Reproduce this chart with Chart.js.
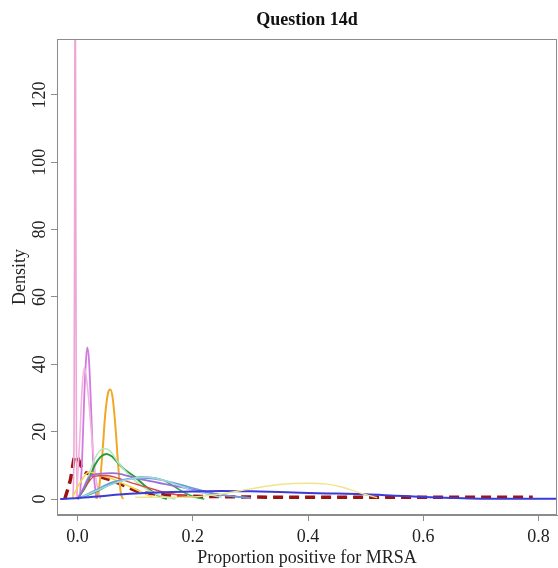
<!DOCTYPE html>
<html>
<head>
<meta charset="utf-8">
<script src="https://cdn.jsdelivr.net/npm/chart.js@4.4.0/dist/chart.umd.min.js"></script>
<style>
  html, body { margin: 0; padding: 0; background: #fff; }
  canvas { display: block; }
</style>
</head>
<body>
<canvas id="densityChart" width="558" height="568"></canvas>
<script>
// axis ticks
const xTicks = [0, 0.2, 0.4, 0.6, 0.8];
const yTicks = [0, 20, 40, 60, 80, 100, 120];

// density curves (x = proportion, y = density)
const spikeX = [-0.008, -0.006, -0.005, -0.004, -0.003, -0.002, 0.0];
const spikeY = [0, 20, 90, 170, 90, 20, 0];

const orchidX = [0.004, 0.008, 0.012, 0.015, 0.017, 0.02, 0.024, 0.028, 0.033];
const orchidY = [0, 12, 32, 42, 45, 41, 25, 8, 0];

const lightPinkX = [-0.002, 0.004, 0.008, 0.012, 0.018, 0.025, 0.032, 0.04];
const lightPinkY = [0, 18, 33, 39, 32, 18, 6, 0];

const orangeX = [0.033, 0.038, 0.043, 0.048, 0.053, 0.057, 0.061, 0.066, 0.071, 0.075, 0.079];
const orangeY = [0, 4, 13, 25, 31.5, 32.5, 30, 21, 9, 2, 0];

const paleGreenX = [0.0, 0.015, 0.03, 0.045, 0.055, 0.07, 0.09, 0.11, 0.14, 0.17];
const paleGreenY = [0, 5, 12, 15, 14.5, 11, 7, 4, 1.2, 0];

const greenX = [0.0, 0.015, 0.03, 0.04, 0.05, 0.06, 0.07, 0.08, 0.1, 0.12, 0.14, 0.155];
const greenY = [0, 4, 10, 12.5, 13.4, 12.6, 10.8, 9, 6.5, 3.5, 1, 0];

const green2X = [0.0, 0.03, 0.06, 0.09, 0.11, 0.13, 0.15, 0.17, 0.19, 0.21, 0.22];
const green2Y = [0, 2, 4.5, 6, 6.5, 6.3, 5.5, 3.5, 1.5, 0.3, 0];

const purpleX = [0.0, 0.01, 0.02, 0.04, 0.06, 0.08, 0.1, 0.12, 0.15, 0.18, 0.21, 0.25, 0.3];
const purpleY = [0, 3, 6.5, 7.5, 7.7, 7.2, 6.3, 5.5, 4.5, 3.5, 2.5, 1.2, 0.3];

const steelX = [0.0, 0.03, 0.06, 0.09, 0.12, 0.15, 0.18, 0.21, 0.25, 0.3];
const steelY = [0, 2.5, 5, 6, 6.2, 5.5, 4.2, 2.8, 1.2, 0.3];

const skyX = [0.0, 0.04, 0.08, 0.12, 0.16, 0.2, 0.25];
const skyY = [0, 3, 5.5, 6.5, 5, 2.5, 0.5];

const redX = [0.0, 0.015, 0.03, 0.05, 0.07, 0.09, 0.12, 0.15, 0.2];
const redY = [0, 4, 6.8, 7, 6.2, 5, 3.5, 2, 0.5];

const goldX = [-0.01, 0.005, 0.02, 0.04, 0.06, 0.08, 0.1, 0.13];
const goldY = [0, 5, 8, 7, 6, 4.5, 3, 0.5];

const khakiX = [0.1, 0.2, 0.25, 0.3, 0.35, 0.4, 0.43, 0.46, 0.49, 0.52];
const khakiY = [0.5, 0.6, 1.5, 3.0, 4.3, 4.7, 4.5, 3.5, 1.8, 0.4];

const blueX = [-0.03, 0.0, 0.05, 0.1, 0.15, 0.2, 0.25, 0.3, 0.35, 0.4, 0.45, 0.5, 0.55, 0.6, 0.65, 0.7, 0.8, 0.84];
const blueY = [0, 0.3, 1.0, 1.6, 2.0, 2.2, 2.4, 2.3, 2.1, 1.8, 1.6, 1.4, 1.0, 0.6, 0.3, 0.1, 0.05, 0.05];

const pooledX = [-0.022, -0.012, -0.004, 0.0, 0.004, 0.01, 0.016, 0.03, 0.05, 0.07, 0.086, 0.108, 0.13, 0.16, 0.2, 0.25, 0.3, 0.4, 0.5, 0.6, 0.7, 0.79];
const pooledY = [0, 6, 12.8, 12.4, 10.7, 8.5, 7.7, 7.0, 6.1, 4.8, 3.6, 2.1, 1.6, 1.1, 0.8, 0.7, 0.6, 0.5, 0.5, 0.5, 0.5, 0.5];

const serif = '"Liberation Serif", "DejaVu Serif", serif';

function pts(xs, ys) {
  return xs.map((x, i) => ({ x, y: ys[i] }));
}

function line(xs, ys, color, width, dash) {
  return {
    data: pts(xs, ys),
    borderColor: color,
    borderWidth: width || 1.6,
    borderDash: dash || [],
    showLine: true,
    pointRadius: 0,
    fill: false,
    cubicInterpolationMode: 'monotone'
  };
}

const datasets = [
  line(khakiX, khakiY, '#eee58c', 1.4),
  line(blueX, blueY, '#3b3bd6', 2),
  line(skyX, skyY, '#9fd3ea', 1.6),
  line(steelX, steelY, '#6a9fd0', 1.6),
  line(purpleX, purpleY, '#9a6fdc', 1.8),
  line(redX, redY, '#e04848', 1.4),
  line(goldX, goldY, '#f2d84a', 1.6),
  line(green2X, green2Y, '#3aa84a', 1.6),
  line(paleGreenX, paleGreenY, '#b8e6c6', 1.6),
  line(greenX, greenY, '#2c9c3a', 2),
  line(orangeX, orangeY, '#f0a828', 2),
  line(lightPinkX, lightPinkY, '#f2b4e0', 1.6),
  line(orchidX, orchidY, '#d27ae0', 1.8),
  line(spikeX, spikeY, '#eea6d6', 1.6),
  line(pooledX, pooledY, '#9b1414', 3.5, [10, 6])
];

const frame = {
  id: 'frame',
  afterDraw(chart) {
    const { ctx, chartArea: a, scales } = chart;
    ctx.save();
    ctx.strokeStyle = '#8c8c8c';
    ctx.lineWidth = 1;
    ctx.strokeRect(a.left + 0.5, a.top + 0.5, a.right - a.left - 1, a.bottom - a.top - 1);

    ctx.fillStyle = '#111';
    ctx.font = 'bold 18px ' + serif;
    ctx.textAlign = 'center';
    ctx.textBaseline = 'alphabetic';
    ctx.fillText('Question 14d', (a.left + a.right) / 2, 25);

    ctx.font = '18px ' + serif;
    ctx.fillStyle = '#222';
    scales.x.ticks.forEach(t => {
      ctx.fillText(t.value.toFixed(1), scales.x.getPixelForValue(t.value), 542);
    });
    ctx.fillText('Proportion positive for MRSA', (a.left + a.right) / 2, 563);

    scales.y.ticks.forEach(t => {
      ctx.save();
      ctx.translate(45, scales.y.getPixelForValue(t.value));
      ctx.rotate(-Math.PI / 2);
      ctx.fillText(String(t.value), 0, 0);
      ctx.restore();
    });
    ctx.save();
    ctx.translate(25, (a.top + a.bottom) / 2);
    ctx.rotate(-Math.PI / 2);
    ctx.fillText('Density', 0, 0);
    ctx.restore();
    ctx.restore();
  }
};

new Chart(document.getElementById('densityChart'), {
  type: 'scatter',
  data: { datasets },
  options: {
    responsive: false,
    animation: false,
    devicePixelRatio: 1,
    layout: { padding: { top: 39, right: 1, left: 0, bottom: 0 } },
    plugins: { legend: { display: false }, tooltip: { enabled: false } },
    scales: {
      x: {
        type: 'linear',
        min: -0.0356,
        max: 0.832,
        afterBuildTicks: s => { s.ticks = xTicks.map(v => ({ value: v })); },
        afterFit: s => { s.height = 53; },
        ticks: { display: false },
        grid: { drawOnChartArea: false, drawTicks: true, tickLength: 6, color: '#8c8c8c' },
        border: { color: '#8c8c8c' }
      },
      y: {
        type: 'linear',
        min: -4.75,
        max: 136.6,
        afterBuildTicks: s => { s.ticks = yTicks.map(v => ({ value: v })); },
        afterFit: s => { s.width = 57; },
        ticks: { display: false },
        grid: { drawOnChartArea: false, drawTicks: true, tickLength: 6, color: '#8c8c8c' },
        border: { color: '#8c8c8c' }
      }
    }
  },
  plugins: [frame]
});
</script>
</body>
</html>
